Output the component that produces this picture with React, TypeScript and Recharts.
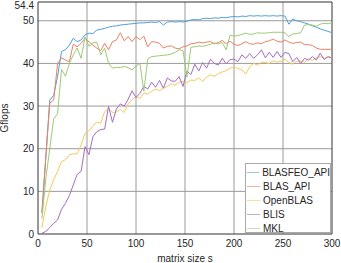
import * as React from "react";
import { Line, LineChart, ReferenceLine, XAxis, YAxis } from "recharts";

// matrix size s
const sizes = [
  4, 8, 12, 16, 20, 24, 28, 32, 36, 40,
  44, 48, 52, 56, 60, 64, 68, 72, 76, 80,
  84, 88, 92, 96, 100, 104, 108, 112, 116, 120,
  124, 128, 132, 136, 140, 144, 148, 152, 156, 160,
  164, 168, 172, 176, 180, 184, 188, 192, 196, 200,
  204, 208, 212, 216, 220, 224, 228, 232, 236, 240,
  244, 248, 252, 256, 260, 264, 268, 272, 276, 280,
  284, 288, 292, 296, 300,
];

// Gflops per library
const blasfeoApi = [
  5, 18, 31.4, 32.5, 37, 42.8, 43.2, 44.3, 45.9, 45.1,
  45.5, 46.7, 47.1, 47.0, 47.8, 48.0, 48.2, 48.5, 48.7, 48.8,
  49.0, 49.1, 49.2, 49.3, 49.4, 49.5, 49.5, 49.6, 49.7, 49.6,
  49.8, 49.0, 49.7, 49.8, 49.7, 49.8, 49.7, 49.9, 50.2, 50.3,
  50.2, 50.5, 50.6, 50.5, 50.7, 50.6, 50.8, 50.7, 50.9, 51.0,
  50.9, 51.1, 51.0, 51.2, 51.1, 51.2, 51.1, 51.2, 51.1, 51.2,
  51.1, 51.2, 51.1, 49.2, 50.4, 50.0, 49.8, 49.5, 49.2, 48.8,
  48.5, 48.1, 47.8, 47.5, 47.2,
];
const blasApi = [
  5, 18, 30.7, 31.4, 40, 41.3, 40.8, 40.4, 44.5, 43.9,
  44.7, 45.9, 45.1, 44.3, 43.6, 43.0, 44.7, 43.2, 45.1, 45.5,
  47.2, 45.3, 46.3, 45.1, 46.3, 45.6, 46.4, 43.9, 45.1, 45.0,
  44.7, 43.6, 44.0, 44.1, 43.6, 43.4, 43.9, 44.1, 44.6, 44.7,
  45.0, 44.8, 45.0, 45.1, 44.6, 44.9, 45.4, 44.6, 45.2, 44.5,
  44.2, 44.6, 45.1, 44.6, 44.5, 44.8, 44.6, 45.1, 45.3, 45.7,
  45.2, 45.0, 45.5, 45.0, 44.7, 44.9, 45.0, 44.4, 44.4, 44.2,
  43.6, 43.3, 43.3, 43.3, 43.3,
];
const openBlas = [
  1.5, 6.5, 10.3, 12.7, 14.7, 17, 17.4, 18.6, 18.8, 18.8,
  20.9, 23.6, 24.2, 25.4, 26.2, 26, 28.7, 29.3, 28.5, 28.6,
  29.2, 28.5, 30.5, 31.5, 32.2, 31.8, 33.1, 32.8, 33.5, 34.0,
  33.6, 34.2, 34.6, 35.2, 34.9, 35.6, 35.8, 35.5, 36.1, 36.0,
  36.6, 35.8, 36.8, 37.3, 37.0, 37.6, 38.0, 38.3, 38.9, 39.2,
  38.8, 38.5, 37.5, 39.2, 40.0, 39.6, 40.3, 40.2, 40.0, 40.6,
  40.3, 40.5, 41.0, 40.2, 39.8, 40.5, 40.6, 40.3, 41.0, 40.7,
  41.3, 41.6, 41.2, 41.5, 41.4,
];
const blis = [
  0.2, 0.6, 1.5, 2.5, 3.3, 5.8, 7.2, 9.0, 11.5, 14.0,
  14.7, 20.5, 18.6, 22.8, 24.0, 24.5, 24.6, 29.9, 26.2, 29.3,
  30.5, 30.0, 31.6, 33.6, 32.0, 33.0, 34.6, 34.0, 35.6, 34.4,
  36.0, 34.2, 36.6, 35.9, 35.8, 36.9, 34.6, 38.2, 37.4, 39.8,
  38.2, 40.2, 38.9, 41.0, 40.0, 39.6, 41.2, 39.9, 40.9, 41.0,
  40.4, 42.0, 41.2, 42.3, 41.2, 42.0, 43.2, 41.3, 42.6, 41.4,
  42.8, 41.4, 42.6, 42.3, 40.4, 41.4, 40.0, 41.2, 40.8, 41.6,
  40.8, 42.4, 40.9, 41.6, 41.2,
];
const mkl = [
  3.6, 13, 20, 27, 28.2, 38.6, 37.0, 40.0, 42.0, 43.6,
  41.2, 46.2, 44.0, 44.8, 45.0, 42.0, 43.6, 40.0, 38.9, 39.1,
  39.0, 39.3, 39.0, 38.5, 39.4, 40.0, 33.5, 41.0, 41.6, 41.7,
  41.8, 41.9, 42.0, 42.2, 42.6, 43.2, 43.0, 36.8, 43.8, 43.9,
  44.1, 44.0, 44.2, 44.5, 44.8, 44.6, 44.9, 43.2, 46.6, 46.4,
  46.5, 46.8, 47.1, 46.8, 46.9, 47.2, 47.1, 47.1, 47.2, 47.3,
  47.3, 47.3, 47.2, 46.3, 46.9, 47.0, 47.2, 49.0, 49.1, 49.0,
  48.7, 49.2, 49.4, 49.3, 49.5,
];

const xTicks = [0, 50, 100, 150, 200, 250, 300];
const yTicks = [0, 10, 20, 30, 40, 50, 54.4];

const series = [
  { key: "BLASFEO_API", values: blasfeoApi, color: "#4f9fdb" },
  { key: "BLAS_API", values: blasApi, color: "#ec8060" },
  { key: "OpenBLAS", values: openBlas, color: "#f5c95e" },
  { key: "BLIS", values: blis, color: "#a66cc2" },
  { key: "MKL", values: mkl, color: "#9ccb74" },
];

const FONT = '"Liberation Sans", Arial, sans-serif';
const TEXT = "#262626";
const GRID = "#9a9a9a";
const BOX = "#333";

const data = sizes.map((s, i) => {
  const row: Record<string, number> = { s };
  series.forEach((sr) => {
    row[sr.key] = sr.values[i];
  });
  return row;
});

// y tick; the top limit label sits at the very edge, nudge it down so it isn't clipped
function YTick(props: { x?: number; y?: number; payload?: { value: number } }) {
  const { x = 0, y = 0, payload } = props;
  const v = payload?.value ?? 0;
  const shift = v === 54.4 ? 3 : 0;
  return (
    <text x={x} y={y + shift} dy="0.355em" textAnchor="end" fill={TEXT} fontSize={10}>
      {String(v)}
    </text>
  );
}

// MATLAB-style boxed legend, pinned to the lower right of the axes
function BoxLegend() {
  return (
    <div
      style={{
        position: "absolute",
        left: 245,
        top: 163,
        width: 86,
        height: 70,
        boxSizing: "border-box",
        border: "1px solid #a8a8a8",
        background: "#fff",
        paddingTop: 2,
        fontFamily: FONT,
        fontSize: 10,
        color: TEXT,
      }}
    >
      {series.map((sr) => (
        <div key={sr.key} style={{ display: "flex", alignItems: "center", height: 13.9 }}>
          <span
            style={{
              display: "inline-block",
              width: 13,
              marginLeft: 1,
              marginRight: 3,
              borderTop: `1px solid ${sr.color}`,
              opacity: 0.6,
            }}
          />
          <span style={{ lineHeight: "12px", whiteSpace: "nowrap" }}>{sr.key}</span>
        </div>
      ))}
    </div>
  );
}

export default function App() {
  return (
    <div style={{ position: "absolute", left: 0, top: 0, width: 341, height: 263, background: "#fff" }}>
      <LineChart
        width={341}
        height={263}
        data={data}
        margin={{ top: 2, right: 9, bottom: 0, left: 0 }}
        style={{ fontFamily: FONT }}
      >
        <XAxis
          dataKey="s"
          type="number"
          domain={[0, 300]}
          ticks={xTicks}
          interval={0}
          height={29}
          tickLine={false}
          tickSize={0}
          tickMargin={6}
          axisLine={{ stroke: BOX }}
          tick={{ fill: TEXT, fontSize: 10 }}
          label={{ value: "matrix size s", position: "insideBottom", offset: 1, fill: TEXT, fontSize: 10 }}
        />
        <YAxis
          type="number"
          domain={[0, 54.4]}
          ticks={yTicks}
          interval={0}
          width={38}
          tickLine={false}
          tickSize={0}
          tickMargin={4}
          axisLine={{ stroke: BOX }}
          tick={<YTick />}
          label={{
            value: "Gflops",
            angle: -90,
            position: "insideLeft",
            offset: 4,
            fill: TEXT,
            fontSize: 10,
            style: { textAnchor: "middle" },
          }}
        />
        {xTicks.slice(1, -1).map((t) => (
          <ReferenceLine key={`gx${t}`} x={t} stroke={GRID} />
        ))}
        {yTicks.slice(1, -1).map((t) => (
          <ReferenceLine key={`gy${t}`} y={t} stroke={GRID} />
        ))}
        <ReferenceLine y={54.4} stroke={BOX} />
        <ReferenceLine x={300} stroke={BOX} />
        {series.map((sr) => (
          <Line
            key={sr.key}
            dataKey={sr.key}
            name={sr.key}
            stroke={sr.color}
            strokeWidth={1}
            dot={false}
            isAnimationActive={false}
          />
        ))}
      </LineChart>
      <BoxLegend />
    </div>
  );
}
